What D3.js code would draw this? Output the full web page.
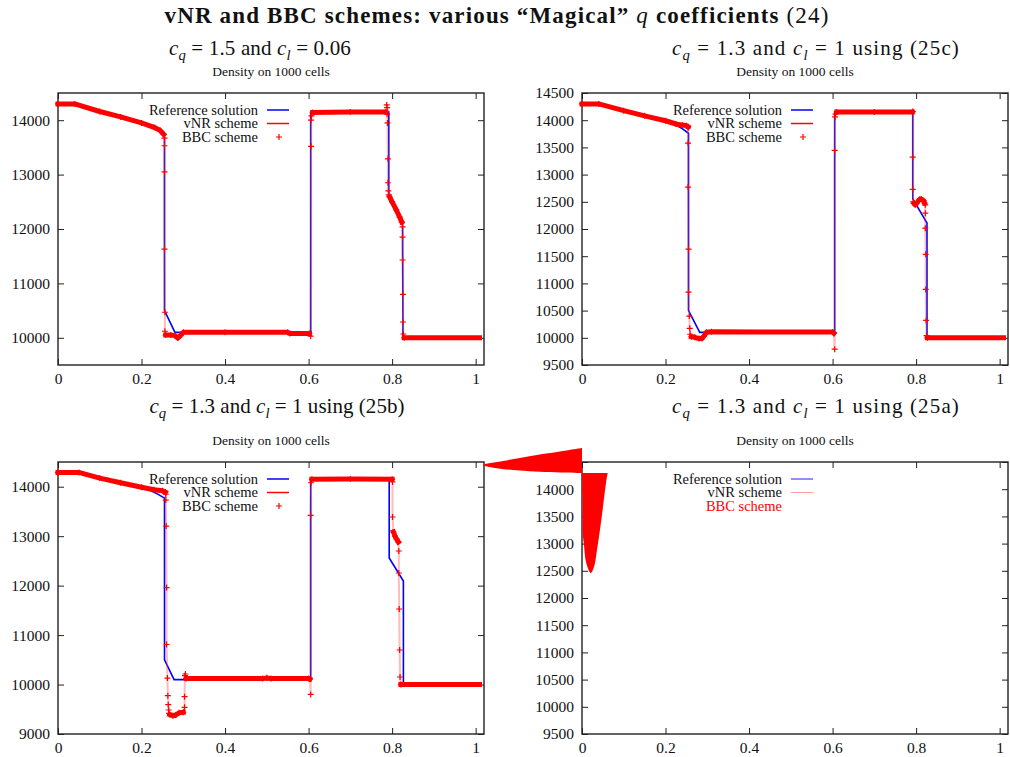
<!DOCTYPE html>
<html>
<head>
<meta charset="utf-8">
<script src="https://cdn.jsdelivr.net/npm/d3@7"></script>
<style>
	body { margin: 0; background: #fff; }
	svg { display: block; font-family: 'Liberation Serif', 'DejaVu Serif', 'Times New Roman', serif; }
	.tick text { font-size: 15.5px; fill: #111; font-family: 'Liberation Serif', 'DejaVu Serif', serif; }
	.tick line { stroke: #222; }
	.frame { fill: none; stroke: #222; stroke-width: 1.4; }
</style>
</head>
<body>
<svg id="chart" width="1010" height="757"></svg>
<script>
// ---- data ----
const xTicks = [0, 0.2, 0.4, 0.6, 0.8, 1];
const xTickLabels = ['0', '0.2', '0.4', '0.6', '0.8', '1'];
const yTicks1000 = [10000, 11000, 12000, 13000, 14000];
const yTicks500 = [9500, 10000, 10500, 11000, 11500, 12000, 12500, 13000, 13500, 14000, 14500];
const yTicksLow = [9000, 10000, 11000, 12000, 13000, 14000];
const legendLabels = ['Reference solution', 'vNR scheme', 'BBC scheme'];
const plotTitle = 'Density on 1000 cells';

// reference solutions [x, density]
const ref1 = [[0, 14300], [0.04, 14300], [0.1, 14170], [0.15, 14070], [0.2, 13960], [0.22, 13910], [0.24, 13840], [0.255, 13750], [0.255, 10500], [0.28, 10100], [0.605, 10100], [0.605, 14150], [0.792, 14150], [0.792, 12560], [0.825, 12110], [0.826, 10000], [1.02, 10000]];
const ref2 = [[0, 14300], [0.04, 14300], [0.1, 14175], [0.15, 14080], [0.2, 13985], [0.22, 13930], [0.24, 13845], [0.255, 13760], [0.255, 10500], [0.282, 10100], [0.605, 10100], [0.605, 14150], [0.792, 14150], [0.792, 12555], [0.826, 12110], [0.826, 10000], [1.02, 10000]];
const ref3 = [[0, 14300], [0.05, 14300], [0.1, 14175], [0.15, 14080], [0.2, 13985], [0.22, 13930], [0.24, 13845], [0.255, 13770], [0.255, 10500], [0.278, 10100], [0.605, 10100], [0.605, 14150], [0.793, 14150], [0.793, 12559], [0.827, 12094], [0.827, 10000], [1.02, 10000]];

// BBC points: dense runs (even index) alternate with isolated shock points (odd index)
const bbc1 = [
	[[0, 14300], [0.04, 14300], [0.1, 14160], [0.15, 14060], [0.2, 13950], [0.23, 13870], [0.245, 13810], [0.253, 13740]],
	[[0.255, 13670], [0.255, 13530], [0.255, 13050], [0.255, 11630], [0.256, 10470], [0.256, 10120]],
	[[0.258, 10050], [0.27, 10050], [0.28, 10040], [0.287, 9995], [0.293, 10040], [0.3, 10100], [0.4, 10100], [0.55, 10100], [0.555, 10080], [0.602, 10080]],
	[[0.605, 10030], [0.606, 13520], [0.606, 14000], [0.607, 14080]],
	[[0.61, 14140], [0.7, 14150], [0.785, 14150]],
	[[0.787, 14280], [0.788, 14230], [0.788, 14110], [0.789, 13950], [0.79, 13290], [0.79, 12850], [0.791, 12700], [0.792, 12630]],
	[[0.794, 12590], [0.8, 12500], [0.81, 12350], [0.818, 12220], [0.823, 12130]],
	[[0.825, 12040], [0.825, 11850], [0.825, 11430], [0.826, 10800], [0.826, 10290], [0.827, 10070]],
	[[0.829, 10000], [1.02, 10000]]
];
const bbc2 = [
	[[0, 14300], [0.04, 14300], [0.1, 14175], [0.15, 14080], [0.2, 13990], [0.225, 13930], [0.24, 13910], [0.25, 13900], [0.254, 13880]],
	[[0.254, 13860], [0.254, 13580], [0.254, 12770], [0.255, 11630], [0.255, 10840], [0.257, 10400], [0.258, 10175], [0.259, 10065]],
	[[0.262, 10020], [0.27, 10010], [0.28, 9985], [0.287, 9985], [0.292, 10030], [0.298, 10100], [0.31, 10110], [0.6, 10105], [0.603, 10085]],
	[[0.605, 9790], [0.605, 13445], [0.606, 14060], [0.607, 14110]],
	[[0.61, 14150], [0.7, 14150], [0.791, 14150]],
	[[0.792, 14160], [0.792, 13320], [0.792, 12730], [0.793, 12500]],
	[[0.795, 12470], [0.798, 12445], [0.802, 12480], [0.808, 12545], [0.812, 12550], [0.818, 12520], [0.82, 12480]],
	[[0.822, 12445], [0.822, 12290], [0.822, 12015], [0.823, 11535], [0.823, 10890], [0.824, 10320], [0.825, 10040]],
	[[0.827, 10000], [1.02, 10000]]
];
const bbc3 = [
	[[0, 14290], [0.05, 14290], [0.1, 14175], [0.15, 14080], [0.2, 13990], [0.23, 13940], [0.25, 13920], [0.257, 13890]],
	[[0.258, 13850], [0.258, 13730], [0.259, 13205], [0.26, 11960], [0.26, 10810], [0.262, 10130], [0.263, 9775], [0.264, 9593], [0.265, 9485], [0.266, 9418]],
	[[0.268, 9390], [0.275, 9370], [0.282, 9385], [0.29, 9430], [0.3, 9440]],
	[[0.303, 9540], [0.303, 9755], [0.304, 10180], [0.305, 10213]],
	[[0.307, 10120], [0.49, 10120], [0.5, 10135], [0.51, 10120], [0.6, 10120], [0.603, 10110]],
	[[0.605, 9800], [0.605, 13420], [0.606, 14080]],
	[[0.608, 14150], [0.7, 14155], [0.8, 14150]],
	[[0.801, 14096], [0.801, 13388]],
	[[0.803, 13085], [0.807, 13000], [0.811, 12940], [0.815, 12883]],
	[[0.816, 12700], [0.816, 12256], [0.817, 11528], [0.818, 10699], [0.819, 10153]],
	[[0.821, 10000], [1.02, 10000]]
];

// the BBC run of panel (25a) blew up into two filled blobs
const glitchWedge4 = [[0, 14757], [-0.053, 14693], [-0.108, 14629], [-0.149, 14574], [-0.189, 14518], [-0.237, 14445], [-0.208, 14390], [-0.149, 14344], [-0.053, 14307], [0, 14298]];
const glitchDrop4 = [[0.0615, 14298], [0.0575, 14114], [0.0472, 13489], [0.0359, 12882], [0.0287, 12570], [0.0208, 12460], [0.0096, 12662], [0.0048, 12974], [0.0017, 13195], [0.0012, 13801], [0, 14298]];

// ---- layout ----
const panelW = 426;
const panelH = 272;
const xDomain = [0, 1.02];

function mathText($text, pieces, size) {
	pieces.forEach(([t, kind]) => {
		const $t = $text.append('tspan').text(t);
		if (kind === 'i') $t.attr('font-style', 'italic');
		if (kind === 'b') $t.attr('font-weight', 'bold');
		if (kind === 'bi') $t.attr('font-style', 'italic').attr('font-weight', 'normal');
		if (kind === 'sub') $t.attr('font-style', 'italic').attr('font-size', size * 0.7).attr('dy', size * 0.22);
		if (kind === 'up') $t.attr('dy', -size * 0.22);
	});
}

// stretch a text to the width it has in the picture
function fitWidth($text, target) {
	const len = $text.node().getComputedTextLength();
	const n = $text.text().length;
	$text.attr('letter-spacing', (target - len) / n);
}

d3.selection.prototype.densityPanel = function init(options) {
	const $svg = this;
	const { id, left, top, yDomain, yTicks, ref, bbc, faded } = options;

	const scaleX = d3.scaleLinear().domain(xDomain).range([0, panelW]);
	const scaleY = d3.scaleLinear().domain(yDomain).range([panelH, 0]);
	const line = d3.line().x(d => scaleX(d[0])).y(d => scaleY(d[1]));

	const $g = $svg.append('g').attr('transform', `translate(${left},${top})`);

	$g.append('clipPath').attr('id', `clip-${id}`)
		.append('rect').attr('x', -3).attr('y', 0).attr('width', panelW + 1).attr('height', panelH);

	// axes, ticks inward on every side
	const fmtY = d3.format('d');
	$g.append('g').attr('transform', `translate(0,${panelH})`)
		.call(d3.axisBottom(scaleX).tickValues(xTicks).tickFormat((d, i) => xTickLabels[i]).tickSizeInner(-6).tickSizeOuter(0).tickPadding(8));
	$g.append('g')
		.call(d3.axisTop(scaleX).tickValues(xTicks).tickFormat('').tickSizeInner(-6).tickSizeOuter(0));
	$g.append('g')
		.call(d3.axisLeft(scaleY).tickValues(yTicks).tickFormat(fmtY).tickSizeInner(-6).tickSizeOuter(0).tickPadding(8));
	$g.append('g').attr('transform', `translate(${panelW},0)`)
		.call(d3.axisRight(scaleY).tickValues(yTicks).tickFormat('').tickSizeInner(-6).tickSizeOuter(0));
	$g.selectAll('.domain').remove();
	$g.selectAll('.tick text').attr('font-size', null).attr('font-family', null);

	$g.append('rect').attr('class', 'frame').attr('width', panelW).attr('height', panelH);

	$g.append('text').attr('x', panelW / 2).attr('y', -17).attr('text-anchor', 'middle')
		.attr('font-size', 13.5).attr('fill', '#111').text(plotTitle);

	const $vis = $g.append('g').attr('clip-path', `url(#clip-${id})`);

	if (ref) {
		$vis.append('path').attr('d', line(ref))
			.attr('fill', 'none').attr('stroke', '#0000ff').attr('stroke-width', 1.6);
	}
	if (bbc) {
		// vNR line follows the same cells
		$vis.append('path').attr('d', line(bbc.flat()))
			.attr('fill', 'none').attr('stroke', 'rgba(255,60,60,0.35)').attr('stroke-width', 2);
		bbc.forEach((piece, i) => {
			if (i % 2 === 0) {
				$vis.append('path').attr('d', line(piece))
					.attr('fill', 'none').attr('stroke', '#ff0000').attr('stroke-width', 5)
					.attr('stroke-linejoin', 'round').attr('stroke-linecap', 'square');
			}
			$vis.selectAll(null).data(piece).enter().append('path')
				.attr('d', d => {
					const x = scaleX(d[0]);
					const y = scaleY(d[1]);
					return `M${x - 3},${y}H${x + 3}M${x},${y - 3}V${y + 3}`;
				})
				.attr('stroke', '#ff0000').attr('stroke-width', 1.2);
		});
	}

	// legend
	const $legend = $g.append('g');
	legendLabels.forEach((label, i) => {
		const y = 17 + i * 13.5;
		$legend.append('text').attr('x', 200).attr('y', y).attr('dy', '0.33em')
			.attr('text-anchor', 'end').attr('font-size', 14.5)
			.attr('fill', faded && i === 2 ? '#ff0000' : '#111').text(label);
		if (i === 0) {
			$legend.append('line').attr('x1', 209).attr('x2', 231).attr('y1', y).attr('y2', y)
				.attr('stroke', faded ? '#6a6aff' : '#0000ff').attr('stroke-width', 1.5);
		} else if (i === 1) {
			$legend.append('line').attr('x1', 209).attr('x2', 231).attr('y1', y).attr('y2', y)
				.attr('stroke', faded ? '#ffa0a0' : '#ff0000').attr('stroke-width', faded ? 1 : 1.5);
		} else if (!faded) {
			$legend.append('path').attr('d', `M218,${y}H224M221,${y - 3}V${y + 3}`)
				.attr('stroke', '#ff0000').attr('stroke-width', 1.2);
		}
	});

	if (options.glitch) {
		const curve = d3.line().x(d => scaleX(d[0])).y(d => scaleY(d[1])).curve(d3.curveCatmullRom);
		options.glitch.forEach(shape => {
			$g.append('path').attr('d', curve(shape) + 'Z').attr('fill', '#ff0000');
		});
	}
	return $g;
};

const $svg = d3.select('#chart');

$svg.densityPanel({ id: 1, left: 58, top: 93, yDomain: [9500, 14500], yTicks: yTicks1000, ref: ref1, bbc: bbc1 });
$svg.densityPanel({ id: 2, left: 582, top: 93, yDomain: [9500, 14500], yTicks: yTicks500, ref: ref2, bbc: bbc2 });
$svg.densityPanel({ id: 3, left: 58, top: 462, yDomain: [9000, 14500], yTicks: yTicksLow, ref: ref3, bbc: bbc3 });
$svg.densityPanel({ id: 4, left: 582, top: 462, yDomain: [9500, 14500], yTicks: yTicks500, faded: true, glitch: [glitchWedge4, glitchDrop4] });

// titles
const $title = $svg.append('text').attr('x', 497).attr('y', 23).attr('text-anchor', 'middle')
	.attr('font-size', 23).attr('fill', '#111');
mathText($title, [['vNR and BBC schemes: various \u201cMagical\u201d ', 'b'], ['q', 'bi'], [' coefficients ', 'b'], ['(24)', '']], 23);
fitWidth($title, 665);

const subtitles = [
	{ x: 260, y: 55, width: 182, pieces: [['c', 'i'], ['q', 'sub'], [' = 1.5 and ', 'up'], ['c', 'i'], ['l', 'sub'], [' = 0.06', 'up']] },
	{ x: 816, y: 55, width: 288, pieces: [['c', 'i'], ['q', 'sub'], [' = 1.3 and ', 'up'], ['c', 'i'], ['l', 'sub'], [' = 1 using (25c)', 'up']] },
	{ x: 277, y: 413, width: 255, pieces: [['c', 'i'], ['q', 'sub'], [' = 1.3 and ', 'up'], ['c', 'i'], ['l', 'sub'], [' = 1 using (25b)', 'up']] },
	{ x: 816, y: 413, width: 288, pieces: [['c', 'i'], ['q', 'sub'], [' = 1.3 and ', 'up'], ['c', 'i'], ['l', 'sub'], [' = 1 using (25a)', 'up']] }
];
subtitles.forEach(s => {
	const $t = $svg.append('text').attr('x', s.x).attr('y', s.y).attr('text-anchor', 'middle')
		.attr('font-size', 21).attr('fill', '#111');
	mathText($t, s.pieces, 21);
	fitWidth($t, s.width);
});
</script>
</body>
</html>
